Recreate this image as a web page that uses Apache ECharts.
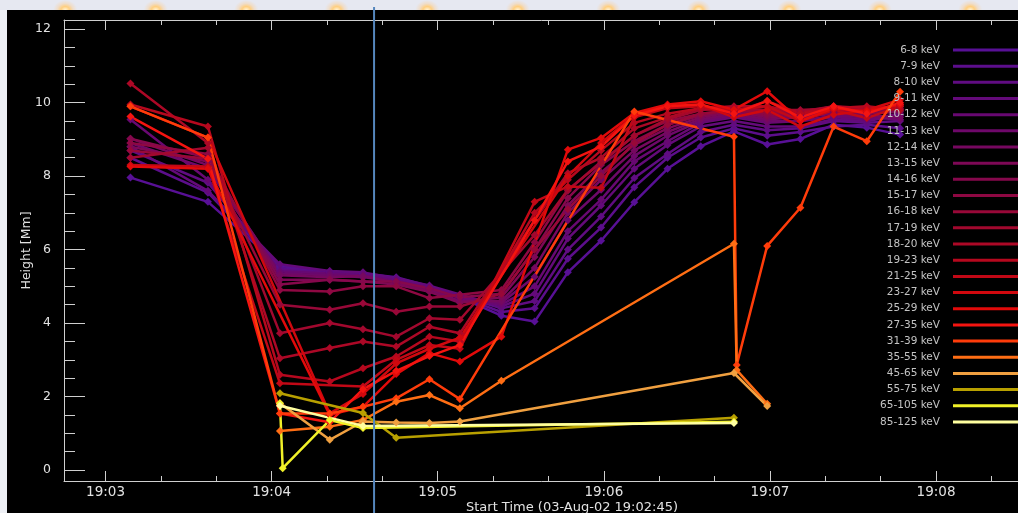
<!DOCTYPE html>
<html><head><meta charset="utf-8">
<script src="https://cdn.jsdelivr.net/npm/echarts@6/dist/echarts.min.js"></script>
<style>
html,body{margin:0;padding:0;width:1018px;height:513px;overflow:hidden;background:#eef0f5;}
#banner{position:absolute;left:0;top:0;width:1018px;height:10px;
 background: radial-gradient(ellipse 12px 10px at 50% 100%, #fff4d8 0%, #ffcf80 35%, rgba(255,200,130,0.35) 65%, rgba(230,232,242,0) 100%) 20px 0/90.5px 10px repeat-x, #e6e8f1;}
#plotbg{position:absolute;left:7px;top:10px;right:0;bottom:0;background:#000;}
#chart{position:absolute;left:0;top:0;width:1018px;height:513px;}
</style></head><body>
<div id="banner"></div><div id="plotbg"></div><div id="chart"></div>
<script>
// times in seconds after 19:00:00
const T = [189,217,243,261,273,285,297,308,323,335,347,359,371,383,395,407,419,431,443,455,467];
const bands = ['6-8 keV','7-9 keV','8-10 keV','9-11 keV','10-12 keV','11-13 keV','12-14 keV','13-15 keV','14-16 keV','15-17 keV','16-18 keV','17-19 keV','18-20 keV','19-23 keV','21-25 keV','23-27 keV','25-29 keV','27-35 keV','31-39 keV','35-55 keV','45-65 keV','55-75 keV','65-105 keV','85-125 keV'];
const colors = ['#581096','#5c0e8c','#600c82','#640a7a','#680872','#6e086a','#760860','#7e0856','#86084c','#8e0842','#980838','#a2082e','#ac0826','#b6081e','#c20816','#d0080e','#e20a0a','#f41410','#ff3c0a','#ff6e14','#f0a040','#b8a000','#f0f028','#ffffa0'];
const h0  = [7.96,7.30,5.55,5.40,5.35,5.25,5.00,4.70,4.20,4.04,5.38,6.24,7.29,8.20,8.81,9.22,8.86,9.01,9.40,9.32,9.13];
const h1  = [8.50,7.55,5.50,5.38,5.33,5.20,4.98,4.72,4.30,4.40,5.75,6.60,7.70,8.50,9.05,9.30,9.10,9.20,9.35,9.40,9.30];
const h2  = [8.70,7.82,5.45,5.36,5.30,5.18,4.96,4.74,4.40,4.60,6.00,6.90,7.95,8.60,9.20,9.40,9.25,9.30,9.50,9.45,9.50];
const h3  = [8.80,7.60,5.60,5.42,5.38,5.22,5.02,4.78,4.45,4.80,6.30,7.20,8.20,8.85,9.35,9.50,9.35,9.35,9.55,9.50,9.65];
const h4  = [9.54,7.90,5.40,5.35,5.30,5.15,4.95,4.70,4.50,5.00,6.50,7.36,8.40,8.95,9.45,9.60,9.45,9.50,9.60,9.55,9.70];
const h5  = [8.90,8.20,5.35,5.30,5.25,5.12,4.92,4.68,4.55,5.26,6.80,7.63,8.55,9.10,9.50,9.65,9.50,9.50,9.65,9.60,9.54];
const h6  = [9.02,8.30,5.30,5.25,5.28,5.10,4.90,4.60,4.60,5.50,7.00,7.90,8.70,9.20,9.55,9.70,9.55,9.60,9.70,9.65,9.60];
const h7  = [8.80,8.40,5.18,5.18,5.13,5.05,4.85,4.55,4.70,5.80,7.20,8.10,8.85,9.30,9.60,9.75,9.60,9.65,9.75,9.70,9.75];
const h8  = [9.02,8.50,5.05,5.18,5.13,5.13,4.95,4.70,4.80,6.00,7.40,8.30,8.95,9.40,9.65,9.80,9.65,9.70,9.80,9.70,9.80];
const h9  = [8.90,8.60,4.90,4.86,5.00,5.00,4.68,4.77,4.90,6.20,7.60,8.40,9.10,9.50,9.70,9.80,9.70,9.72,9.85,9.75,9.85];
const h10 = [8.70,8.47,4.50,4.36,4.54,4.31,4.45,4.45,4.80,6.00,7.10,8.00,8.90,9.40,9.70,9.80,9.75,9.75,9.90,9.80,9.90];
const h11 = [8.50,8.77,3.72,4.00,3.83,3.63,4.13,4.09,null,6.40,7.63,8.36,9.10,9.55,9.80,9.85,9.80,9.80,9.85,9.76,9.95];
const h12 = [10.52,8.90,3.04,3.32,3.50,3.36,3.90,3.72,null,6.80,8.08,8.50,9.30,9.60,9.85,9.90,9.90,9.72,9.90,9.85,9.90];
const h13 = [9.95,9.35,2.59,2.41,2.77,3.09,3.63,3.50,null,7.00,7.90,8.70,9.45,9.70,9.85,9.75,10.04,9.70,9.85,9.90,9.80];
const h14 = [8.30,8.26,2.36,null,2.27,3.00,3.40,3.30,null,7.30,7.72,7.68,9.60,9.85,9.90,9.80,9.90,9.50,9.80,9.58,9.90];
const h15 = [9.90,9.05,null,1.54,2.07,2.90,3.30,3.60,null,null,8.00,8.90,9.67,9.90,9.95,9.60,9.80,9.35,9.67,9.80,10.08];
const h16 = [8.26,8.20,null,1.50,1.72,2.61,3.18,2.95,3.63,null,8.72,9.04,9.72,9.95,10.04,9.81,10.31,9.50,9.85,9.76,9.95];
const h17 = [9.62,8.47,1.54,1.30,2.20,2.70,3.10,3.40,null,6.80,8.40,8.80,9.65,9.90,9.95,9.70,10.05,9.60,9.90,9.70,10.00];
// sparse bands: [time, height]
const h18 = [[189,9.90],[217,9.05],[243,1.54],[261,1.54],[273,1.72],[285,1.95],[297,2.47],[308,1.93],[371,9.76],[407,9.07],[408,2.86],[419,6.10],[431,7.14],[443,9.35],[455,8.95],[467,10.30]];
const h19 = [[243,1.06],[261,1.18],[273,1.36],[285,1.86],[297,2.04],[308,1.68],[323,2.43],[407,6.16],[408,2.72],[419,1.80]];
const h20 = [[243,1.82],[261,0.82],[273,1.32],[285,1.29],[297,1.28],[308,1.32],[407,2.64],[419,1.74]];
const h21 = [[243,2.09],[273,1.55],[285,0.88],[407,1.42]];
const h22 = [[243,1.82],[244,0.05],[261,1.36],[273,1.14],[407,1.31]];
const h23 = [[243,1.75],[273,1.20],[407,1.28]];
const xMajor = [180,240,300,360,420,480];
const xMinor = [200,220,260,280,320,340,380,400,440,460,500,520];
const yMajor = [0,2,4,6,8,10,12];
const yMinor = [0.5,1,1.5,2.5,3,3.5,4.5,5,5.5,6.5,7,7.5,8.5,9,9.5,10.5,11,11.5];
const markerTime = 277;
const xTitle = 'Start Time (03-Aug-02 19:02:45)';
const yTitle = 'Height [Mm]';

const aligned = [h0,h1,h2,h3,h4,h5,h6,h7,h8,h9,h10,h11,h12,h13,h14,h15,h16,h17];
const sparse = [h18,h19,h20,h21,h22,h23];
const allData = aligned.map(a => a.map((v,k) => v == null ? null : [T[k], v]).filter(Boolean)).concat(sparse);

const FONT = 'DejaVu Sans';
const axisCol = '#cfcfcf';
const txtCol = '#e2e2e2';
const X0 = 165, X1 = 532, Y0 = -0.3, Y1 = 12.25;
const fmtX = v => '19:' + String(Math.floor(v/60)).padStart(2,'0');

const baseX = (pos, major) => ({
  type:'value', position:pos, min:X0, max:X1, gridIndex:0,
  axisLine:{show: major, onZero:false, lineStyle:{color:axisCol, width:1}},
  axisTick:{show:true, inside:true, length: major?10:5, customValues: major?xMajor:xMinor, lineStyle:{color:axisCol, width:1}},
  axisLabel:{show:false}, splitLine:{show:false}
});
const xa0 = baseX('bottom', true);
xa0.axisLabel = {show:true, customValues:xMajor, formatter:fmtX, color:txtCol, fontSize:13.5, fontFamily:FONT, margin:4};
xa0.name = xTitle; xa0.nameLocation='middle'; xa0.nameGap=20; xa0.nameMoveOverlap=false;
xa0.nameTextStyle = {color:txtCol, fontSize:13, fontFamily:FONT};

const chart = echarts.init(document.getElementById('chart'), null, {renderer:'canvas'});
const iconPath = 'path://M0,0L0,3M8,0L73,0L73,3L8,3Z';
chart.setOption({
  animation:false,
  backgroundColor:'transparent',
  grid:{left:64, top:20, width:1016, height:461, containLabel:false, outerBoundsMode:'none'},
  xAxis:[xa0, baseX('bottom', false), baseX('top', true), baseX('top', false)],
  yAxis:[
    {type:'value', position:'left', min:Y0, max:Y1,
     axisLine:{show:true, onZero:false, lineStyle:{color:axisCol, width:1}},
     axisTick:{show:true, inside:true, length:21, customValues:yMajor, lineStyle:{color:axisCol}},
     axisLabel:{show:true, customValues:yMajor, color:txtCol, fontSize:12.5, fontFamily:FONT, margin:13},
     splitLine:{show:false},
     name:yTitle, nameLocation:'middle', nameGap:31, nameRotate:90, nameMoveOverlap:false,
     nameTextStyle:{color:txtCol, fontSize:12.5, fontFamily:FONT}},
    {type:'value', position:'left', min:Y0, max:Y1,
     axisLine:{show:false, onZero:false},
     axisTick:{show:true, inside:true, length:11, customValues:yMinor, lineStyle:{color:axisCol}},
     axisLabel:{show:false}, splitLine:{show:false}}
  ],
  legend:{
    orient:'vertical', right:0, top:44, align:'right', padding:0,
    itemWidth:73, itemHeight:3, itemGap:4.17, icon:iconPath,
    itemStyle:{borderWidth:0},
    selectedMode:false,
    textStyle:{color:'#c4c4c4', fontSize:10.5, fontFamily:FONT, lineHeight:12},
    data:bands
  },
  series: allData.map((d,i) => ({
    name:bands[i], type:'line', data:d, xAxisIndex:0, yAxisIndex:0,
    symbol:'diamond', symbolSize:8, showAllSymbol:true, connectNulls:true,
    color:colors[i],
    lineStyle:{width:2.5, color:colors[i]},
    itemStyle:{color:colors[i], borderWidth:0},
    emphasis:{disabled:true}, silent:true
  }))
});
const px = chart.convertToPixel({xAxisIndex:0}, markerTime);
chart.setOption({graphic:[{type:'line', z:100, silent:true,
  shape:{x1:px, y1:7, x2:px, y2:513}, style:{stroke:'#5586bd', lineWidth:2}}]});
</script></body></html>
